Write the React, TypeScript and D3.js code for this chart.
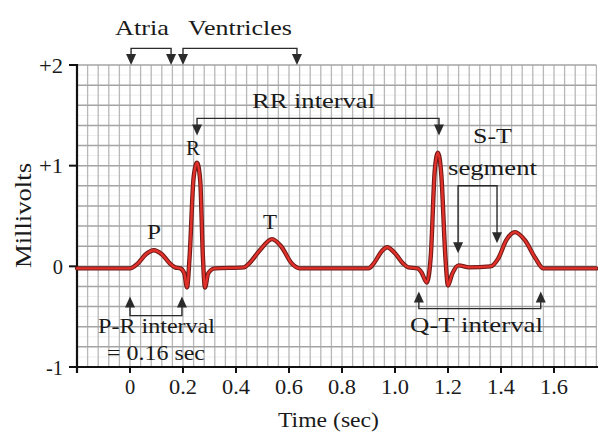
import React from "react";
import * as d3 from "d3";

const W = 598;
const H = 432;

// ECG trace: time (s), millivolts
const traceT = [
  -0.2, 0.0, 0.03, 0.06, 0.09, 0.12, 0.15, 0.17, 0.19, 0.205, 0.215, 0.225, 0.24, 0.253, 0.265, 0.275, 0.283,
  0.295, 0.32, 0.43, 0.45, 0.49, 0.536, 0.57, 0.61, 0.64, 0.9, 0.92, 0.95, 0.97, 1.0, 1.03, 1.05, 1.085,
  1.1, 1.12, 1.135, 1.15, 1.162, 1.175, 1.19, 1.2, 1.215, 1.24, 1.28, 1.36, 1.39, 1.42, 1.453, 1.49, 1.53,
  1.56, 1.76,
];
const traceV = [
  -0.02, -0.02, 0.03, 0.12, 0.16, 0.12, 0.03, -0.01, -0.02, -0.07, -0.21, 0.1, 0.88, 1.03, 0.85, 0.1, -0.21,
  -0.07, -0.02, -0.01, 0.03, 0.16, 0.27, 0.2, 0.03, -0.02, -0.02, 0.03, 0.15, 0.19, 0.13, 0.03, -0.01, -0.02,
  -0.06, -0.16, 0.1, 0.95, 1.13, 0.9, 0.1, -0.19, -0.08, 0.01, -0.01, 0.0, 0.08, 0.26, 0.34, 0.26, 0.08,
  -0.02, -0.02,
];

const xTicks = [0, 0.2, 0.4, 0.6, 0.8, 1.0, 1.2, 1.4, 1.6];
const xTickLabels = ["0", "0.2", "0.4", "0.6", "0.8", "1.0", "1.2", "1.4", "1.6"];
const yTicks = [2, 1, 0, -1];
const yTickLabels = ["+2", "+1", "0", "-1"];

// brackets: [t1, t2, lineV, tip1V, tip2V]
const bracketAtria = [0.004, 0.155, 2.165, 2.0, 2.0];
const bracketVentricles = [0.2, 0.63, 2.165, 2.0, 2.0];
const bracketRR = [0.253, 1.166, 1.47, 1.3, 1.3];
const bracketST = [1.238, 1.385, 0.8, 0.13, 0.23];
const bracketPR = [0.0, 0.196, -0.49, -0.3, -0.3];
const bracketQT = [1.09, 1.55, -0.42, -0.25, -0.25];

const x = d3.scaleLinear().domain([-0.2, 1.76]).range([77, 596.4]);
const y = d3.scaleLinear().domain([-1, 2]).range([367, 65]);

const FONT = "Liberation Serif, Times New Roman, Times, DejaVu Serif, serif";

function Arrowhead({ tx, ty, dir }: { tx: number; ty: number; dir: number }) {
  const h = 11;
  const w = 5;
  return (
    <path
      d={`M${tx},${ty} L${tx - w},${ty - dir * h} L${tx + w},${ty - dir * h} Z`}
      fill="#2b2b2b"
    />
  );
}

function Bracket({ b }: { b: number[] }) {
  const [t1, t2, lv, v1, v2] = b;
  const x1 = x(t1);
  const x2 = x(t2);
  const ly = y(lv);
  const y1 = y(v1);
  const y2 = y(v2);
  const dir1 = y1 > ly ? 1 : -1;
  const dir2 = y2 > ly ? 1 : -1;
  return (
    <g>
      <path
        d={`M${x1},${y1 - dir1 * 8} L${x1},${ly} L${x2},${ly} L${x2},${y2 - dir2 * 8}`}
        fill="none"
        stroke="#2b2b2b"
        strokeWidth={1.4}
      />
      <Arrowhead tx={x1} ty={y1} dir={dir1} />
      <Arrowhead tx={x2} ty={y2} dir={dir2} />
    </g>
  );
}

function Label({
  text,
  px,
  py,
  len,
  size = 21,
  anchor = "start",
}: {
  text: string;
  px: number;
  py: number;
  len?: number;
  size?: number;
  anchor?: string;
}) {
  return (
    <text
      x={px}
      y={py}
      textAnchor={anchor}
      style={{ fontFamily: FONT, fontSize: size }}
      fill="#1a1a1a"
      textLength={len}
      lengthAdjust={len ? "spacingAndGlyphs" : undefined}
    >
      {text}
    </text>
  );
}

export default function App() {
  const points: [number, number][] = traceT.map((t, i) => [t, traceV[i]]);
  const line = d3
    .line<[number, number]>()
    .x((d) => x(d[0]))
    .y((d) => y(d[1]))
    .curve(d3.curveMonotoneX);
  const pathD = line(points) || "";

  const vLines: number[] = [];
  for (let k = 1; k <= 49; k++) vLines.push(-0.2 + k * 0.04);
  const hMajor: number[] = [];
  for (let k = 1; k <= 15; k++) hMajor.push(-1 + k * 0.2);
  const hMinor: number[] = [];
  for (let k = 0; k < 15; k++) hMinor.push(-0.9 + k * 0.2);

  const [xl, xr] = x.range();

  return (
    <svg
      width={W}
      height={H}
      style={{ position: "fixed", left: 0, top: 0, background: "#fff" }}
    >
      <rect x={0} y={0} width={W} height={H} fill="#fff" />
      {hMinor.map((v, i) => (
        <line key={"hm" + i} x1={xl} x2={xr} y1={y(v)} y2={y(v)} stroke="#efefef" strokeWidth={1} />
      ))}
      {vLines.map((t, i) => (
        <line key={"v" + i} x1={x(t)} x2={x(t)} y1={y(2)} y2={y(-1)} stroke="#b8b8b8" strokeWidth={1.3} />
      ))}
      {hMajor.map((v, i) => (
        <line key={"h" + i} x1={xl} x2={xr} y1={y(v)} y2={y(v)} stroke="#a4a4a4" strokeWidth={1.5} />
      ))}

      <line x1={xl} x2={xl} y1={y(2) - 1} y2={y(-1) + 6} stroke="#111" strokeWidth={2.2} />
      <line x1={xl} x2={xr + 2} y1={y(-1)} y2={y(-1)} stroke="#111" strokeWidth={2.2} />
      {yTicks.map((v, i) => (
        <g key={"yt" + i}>
          <line x1={xl - 8} x2={xl} y1={y(v)} y2={y(v)} stroke="#111" strokeWidth={2} />
          <Label
            text={yTickLabels[i]}
            px={63}
            py={y(v) + 7.5}
            anchor="end"
            size={20.5}
            len={yTickLabels[i].length > 1 ? (yTickLabels[i][0] === "-" ? 17 : 24) : undefined}
          />
        </g>
      ))}
      {xTicks.map((t, i) => (
        <g key={"xt" + i}>
          <line x1={x(t)} x2={x(t)} y1={y(-1)} y2={y(-1) + 6} stroke="#111" strokeWidth={2} />
          <Label
            text={xTickLabels[i]}
            px={x(t)}
            py={394}
            anchor="middle"
            size={20.5}
            len={xTickLabels[i].length > 1 ? 28 : undefined}
          />
        </g>
      ))}
      <Label text="Time (sec)" px={278} py={427} len={101} size={21} />
      <text
        transform="translate(31,215.5) rotate(-90)"
        textAnchor="middle"
        style={{ fontFamily: FONT, fontSize: 24 }}
        fill="#1a1a1a"
        textLength={105}
        lengthAdjust="spacingAndGlyphs"
      >
        Millivolts
      </text>

      <path d={pathD} fill="none" stroke="#6e1a16" strokeWidth={4.4} strokeLinejoin="round" strokeLinecap="round" />
      <path d={pathD} fill="none" stroke="#e2302a" strokeWidth={2.4} strokeLinejoin="round" strokeLinecap="round" />

      <Bracket b={bracketAtria} />
      <Bracket b={bracketVentricles} />
      <Bracket b={bracketRR} />
      <Bracket b={bracketST} />
      <Bracket b={bracketPR} />
      <Bracket b={bracketQT} />

      <Label text="Atria" px={115} py={35} len={54} size={21} />
      <Label text="Ventricles" px={188} py={35} len={104} size={21} />
      <Label text="RR interval" px={252} py={108} len={123} size={21} />
      <Label text="R" px={186} py={155} len={14} size={21} />
      <Label text="P" px={147} py={239} len={14} size={21} />
      <Label text="T" px={263} py={229} len={14} size={21} />
      <Label text="S-T" px={473} py={143} len={39} size={21} />
      <Label text="segment" px={448} py={175} len={89} size={21} />
      <Label text="P-R interval" px={98} py={333} len={117} size={21} />
      <Label text="= 0.16 sec" px={107} py={360} len={98} size={21} />
      <Label text="Q-T interval" px={410} py={332} len={133} size={21} />
    </svg>
  );
}
